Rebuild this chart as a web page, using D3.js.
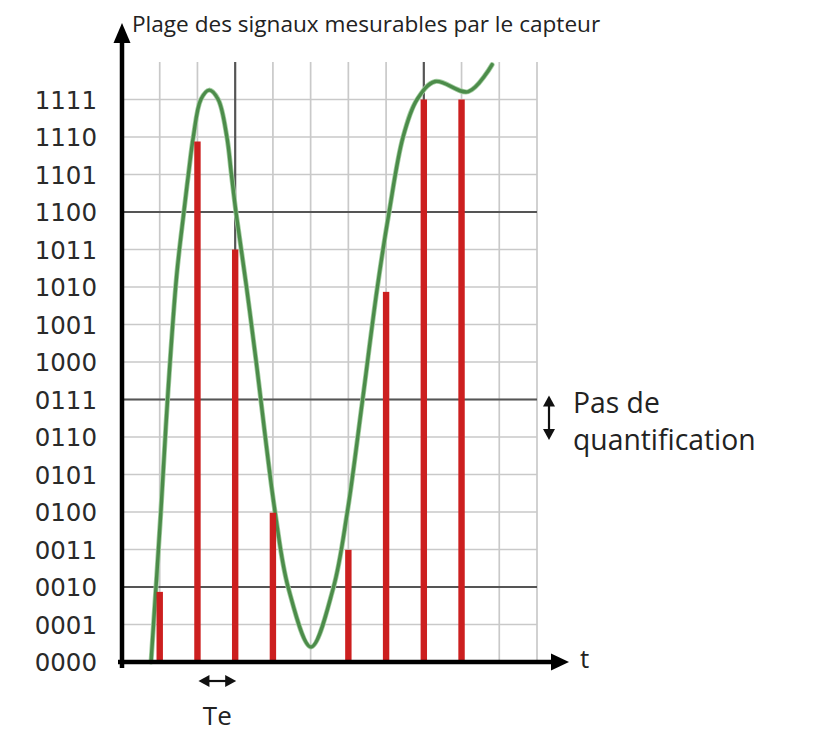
<!DOCTYPE html>
<html>
<head>
<meta charset="utf-8">
<script src="https://cdn.jsdelivr.net/npm/d3@7"></script>
<style>
  html, body { margin: 0; padding: 0; background: #ffffff; }
  svg { display: block; }
</style>
</head>
<body>
<svg id="chart" width="815" height="733"></svg>
<script>
// ---------- data ----------
const levelCodes = ["0000","0001","0010","0011","0100","0101","0110","0111",
                    "1000","1001","1010","1011","1100","1101","1110","1111"];
const majorLevels = [2, 7, 12];
const majorTimes = [3, 8];
const sampleTimes  = [1, 2, 3, 4, 6, 7, 8, 9];
const sampleValues = [1.87, 13.88, 11.0, 3.98, 2.99, 9.87, 15.0, 15.0];
const signalT     = [0.77, 1.03, 1.22, 1.45, 1.64, 1.76, 1.89, 2.09, 2.31, 2.55, 2.78, 2.90, 3.02, 3.30,
                     3.55, 4.06, 4.41, 5.01, 5.60, 5.97, 6.37, 6.76, 7.08, 7.45, 7.82, 8.30, 9.18, 9.81];
const signalLevel = [0.00, 4.00, 7.20, 10.32, 12.0, 13.0, 14.0, 15.0, 15.25, 15.0, 14.0, 13.0, 12.0, 10.0,
                     8.06, 3.98, 1.97, 0.40, 1.97, 3.98, 6.94, 9.93, 12.0, 14.0, 15.0, 15.48, 15.21, 15.93];
const yTitle = "Plage des signaux mesurables par le capteur";
const xTitle = "t";
const stepLabel = ["Pas de", "quantification"];
const periodLabel = "Te";

// ---------- scales ----------
const svg = d3.select("#chart");
const x = d3.scaleLinear().domain([0, 11]).range([122, 537]);
const y = d3.scaleLinear().domain([0, 16]).range([662, 62]);

const gridLevels = d3.range(1, 16);
const gridTimes = d3.range(1, 12);

// ---------- grid ----------
const grid = svg.append("g");
grid.selectAll("line.h").data(gridLevels).join("line")
  .attr("x1", x(0)).attr("x2", x(11))
  .attr("y1", d => y(d)).attr("y2", d => y(d))
  .attr("stroke", "#c9c9c9")
  .attr("stroke-width", 1.7);
grid.selectAll("line.v").data(gridTimes).join("line")
  .attr("x1", d => x(d)).attr("x2", d => x(d))
  .attr("y1", y(0)).attr("y2", y(16))
  .attr("stroke", d => majorTimes.includes(d) ? "#555555" : "#c9c9c9")
  .attr("stroke-width", d => majorTimes.includes(d) ? 2.2 : 1.7);
grid.selectAll("line.hm").data(majorLevels).join("line")
  .attr("x1", x(0)).attr("x2", x(11))
  .attr("y1", d => y(d)).attr("y2", d => y(d))
  .attr("stroke", "#555555").attr("stroke-width", 2.2);

// ---------- signal curve ----------
const signal = signalT.map((t, i) => [t, signalLevel[i]]);
const line = d3.line().x(d => x(d[0])).y(d => y(d[1])).curve(d3.curveCatmullRom.alpha(0.5));
svg.append("path").datum(signal)
  .attr("d", line)
  .attr("fill", "none")
  .attr("stroke", "#a3cda1")
  .attr("stroke-width", 5)
  .attr("stroke-linecap", "round");
svg.append("path").datum(signal)
  .attr("d", line)
  .attr("fill", "none")
  .attr("stroke", "#4c8c4a")
  .attr("stroke-width", 3.4)
  .attr("stroke-linecap", "round");

// ---------- samples ----------
const samples = sampleTimes.map((t, i) => ({t, v: sampleValues[i]}));
svg.append("g").selectAll("rect").data(samples).join("rect")
  .attr("x", d => x(d.t) - 3.2)
  .attr("width", 6.4)
  .attr("y", d => y(d.v))
  .attr("height", d => y(0) - y(d.v))
  .attr("fill", "#cc1f1f");

// ---------- y tick labels ----------
const yAxis = d3.axisLeft(y)
  .tickValues(d3.range(0, 16))
  .tickFormat(d => levelCodes[d])
  .tickSize(0)
  .tickPadding(25);
const gy = svg.append("g").attr("transform", `translate(${x(0)},0)`).call(yAxis);
gy.select(".domain").remove();
gy.selectAll("text")
  .attr("font-family", "'DejaVu Sans', sans-serif")
  .attr("font-size", 24.5)
  .attr("fill", "#2a2a2a")
  .attr("dy", "0.36em");

// ---------- axes with arrows ----------
const axisColor = "#000000";
svg.append("line")
  .attr("x1", x(0)).attr("x2", x(0))
  .attr("y1", y(0) + 6).attr("y2", 40)
  .attr("stroke", axisColor).attr("stroke-width", 4.5);
svg.append("path")
  .attr("d", `M${x(0)},23 L${x(0) - 8.5},43 L${x(0) + 8.5},43 Z`)
  .attr("fill", axisColor);
svg.append("line")
  .attr("x1", x(0) - 4).attr("x2", 555)
  .attr("y1", y(0)).attr("y2", y(0))
  .attr("stroke", axisColor).attr("stroke-width", 4.5);
svg.append("path")
  .attr("d", `M569,${y(0)} L551,${y(0) - 8.5} L551,${y(0) + 8.5} Z`)
  .attr("fill", axisColor);

// ---------- texts ----------
svg.append("text")
  .attr("x", 132).attr("y", 32)
  .attr("font-family", "'Open Sans', sans-serif")
  .attr("font-size", 22.6)
  .attr("fill", "#222222")
  .text(yTitle);
svg.append("text")
  .attr("x", 580).attr("y", 668)
  .attr("font-family", "'Open Sans', sans-serif")
  .attr("font-size", 26)
  .attr("fill", "#222222")
  .text(xTitle);

// step (quantification) arrow
const sx = 549;
const s1 = y(7) - 4, s2 = y(6) + 3;
svg.append("line").attr("x1", sx).attr("x2", sx).attr("y1", s1 + 6).attr("y2", s2 - 6)
  .attr("stroke", "#111").attr("stroke-width", 2.2);
svg.append("path").attr("d", `M${sx},${s1} L${sx - 6},${s1 + 11} L${sx + 6},${s1 + 11} Z`).attr("fill", "#111");
svg.append("path").attr("d", `M${sx},${s2} L${sx - 6},${s2 - 11} L${sx + 6},${s2 - 11} Z`).attr("fill", "#111");
svg.append("text")
  .attr("font-family", "'Open Sans', sans-serif")
  .attr("font-size", 28.3)
  .attr("fill", "#222222")
  .selectAll("tspan").data(stepLabel).join("tspan")
  .attr("x", 573)
  .attr("y", (d, i) => 413 + i * 37)
  .text(d => d);

// Te arrow
const ty = 681;
const t1 = x(2) + 1, t2 = x(3) + 1;
svg.append("line").attr("x1", t1 + 6).attr("x2", t2 - 6).attr("y1", ty).attr("y2", ty)
  .attr("stroke", "#111").attr("stroke-width", 2.2);
svg.append("path").attr("d", `M${t1},${ty} L${t1 + 11},${ty - 6} L${t1 + 11},${ty + 6} Z`).attr("fill", "#111");
svg.append("path").attr("d", `M${t2},${ty} L${t2 - 11},${ty - 6} L${t2 - 11},${ty + 6} Z`).attr("fill", "#111");
svg.append("text")
  .attr("x", (t1 + t2) / 2).attr("y", 725)
  .attr("text-anchor", "middle")
  .attr("font-family", "'Open Sans', sans-serif")
  .attr("font-size", 26)
  .attr("fill", "#222222")
  .text(periodLabel);
</script>
</body>
</html>
